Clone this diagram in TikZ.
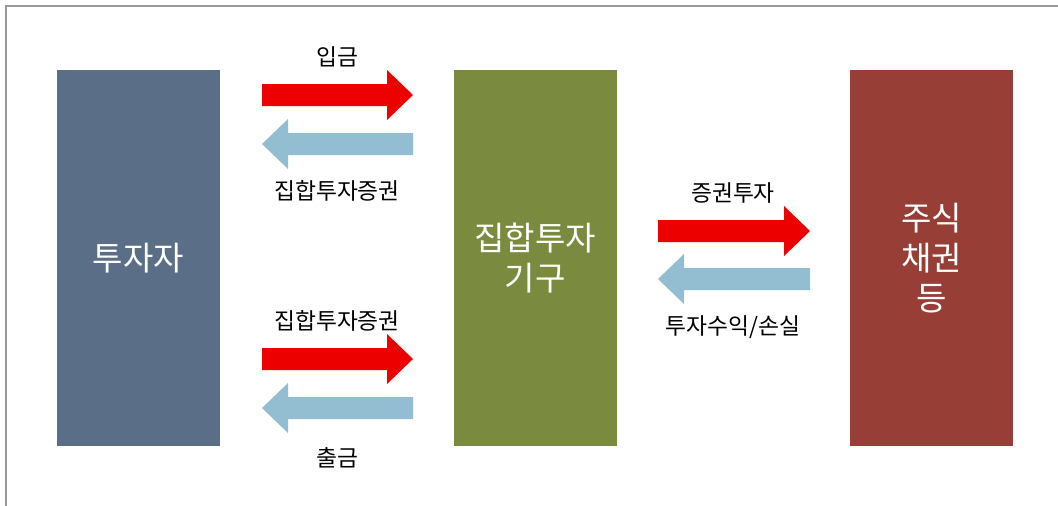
\documentclass[tikz,border=0pt]{standalone}
\usepackage{fontspec}
\setmainfont{Noto Sans CJK KR}
\definecolor{investor}{HTML}{5B6E88}
\definecolor{fundbox}{HTML}{7A8B3F}
\definecolor{assetbox}{HTML}{973E37}
\definecolor{inred}{HTML}{EC0000}
\definecolor{outblue}{HTML}{93BDD1}
\tikzset{
    block/.style={minimum width=163*0.025cm, minimum height=376*0.025cm,
        inner sep=0pt, text=white, font=\fontsize{23.5}{28.5}\selectfont, align=center},
    flowlabel/.style={font=\fontsize{16.2}{19}\selectfont}
}
% block arrows: tail x, tip x, centre y
\newcommand{\rightflow}[3]{\fill[inred] (#1,#3-11) -- (#2-26,#3-11) -- (#2-26,#3-25)
    -- (#2,#3) -- (#2-26,#3+25) -- (#2-26,#3+11) -- (#1,#3+11) -- cycle;}
\newcommand{\leftflow}[3]{\fill[outblue] (#1,#3-11) -- (#2+26,#3-11) -- (#2+26,#3-25)
    -- (#2,#3) -- (#2+26,#3+25) -- (#2+26,#3+11) -- (#1,#3+11) -- cycle;}
\begin{document}
\begin{tikzpicture}[x=0.025cm,y=-0.025cm]

    \useasboundingbox (0,0) rectangle (1058,506);
    \draw[gray!80, line width=1.5pt] (6,506) -- (6,6) -- (1058,6);

    % Boxes
    % -----
    \node[block, fill=investor] (inv)  at (138.5,258) {투자자};
    \node[block, fill=fundbox]  (fund) at (535,258)   {집합투자\\기구};
    \node[block, fill=assetbox] (asset) at (931.5,258) {주식\\채권\\등};

    % Arrows
    % ------
    \rightflow{262}{413}{95}
    \leftflow{413}{262}{144}
    \rightflow{262}{413}{359}
    \leftflow{413}{262}{408}
    \rightflow{658}{810}{231}
    \leftflow{810}{658}{279}

    % Labels
    % ------
    \node[flowlabel] (dep)   at (337,57)  {입금};
    \node[flowlabel] (sec1)  at (337,191) {집합투자증권};
    \node[flowlabel] (sec2)  at (337,321) {집합투자증권};
    \node[flowlabel] (wdr)   at (337,458) {출금};
    \node[flowlabel] (buy)   at (733,193) {증권투자};
    \node[flowlabel] (ret)   at (733,327) {투자수익/손실};

\end{tikzpicture}
\end{document}
